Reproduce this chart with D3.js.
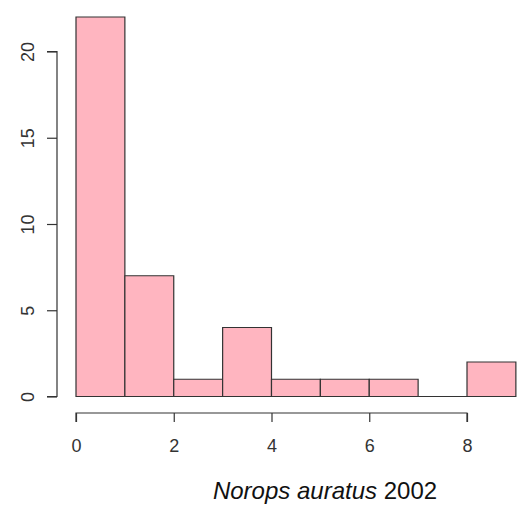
<!DOCTYPE html>
<html>
<head>
<meta charset="utf-8">
<script src="https://cdn.jsdelivr.net/npm/d3@7"></script>
<style>
  body { margin: 0; background: #fff; }
  svg text { font-family: "Liberation Sans", Arial, sans-serif; }
</style>
</head>
<body>
<div id="chart"></div>
<script>
// histogram bins (left edge, right edge) and counts
const binStarts = [0, 1, 2, 3, 4, 5, 6, 7, 8];
const binEnds   = [1, 2, 3, 4, 5, 6, 7, 8, 9];
const counts    = [22, 7, 1, 4, 1, 1, 1, 0, 2];
const xTicks = [0, 2, 4, 6, 8];
const yTicks = [0, 5, 10, 15, 20];

const W = 531, H = 508;

const SVG = d3.select("#chart")
    .append("svg")
        .attr("width", W)
        .attr("height", H);

const x = d3.scaleLinear().domain([0, 8]).range([76, 467]);
const y = d3.scaleLinear().domain([0, 20]).range([396.5, 51.5]);

const bins = binStarts.map((s, i) => ({x0: s, x1: binEnds[i], n: counts[i]}));

// bars as paths so an empty bin still shows its outline on the baseline
SVG.selectAll("path.bar")
    .data(bins)
    .enter()
    .append("path")
        .attr("class", "bar")
        .attr("d", d => `M${x(d.x0)},${y(0)}V${y(d.n)}H${x(d.x1)}V${y(0)}Z`)
        .style("fill", "#ffb5c0")
        .style("stroke", "#333")
        .style("stroke-width", 1.2);

// y axis (R style: rotated labels, detached)
const yAxis = SVG.append("g")
    .attr("transform", "translate(57,0)")
    .call(d3.axisLeft(y).tickValues(yTicks).tickSize(10).tickPadding(6));
yAxis.attr("font-size", 18).attr("font-family", null);
yAxis.select(".domain").attr("stroke", "#333").attr("stroke-width", 1.2).attr("d", `M-10,${y(0)}H0V${y(20)}H-10`);
yAxis.selectAll(".tick line").attr("stroke", "#333").attr("stroke-width", 1.2);
yAxis.selectAll(".tick text")
    .attr("x", null).attr("dy", null)
    .attr("transform", "translate(-29,0) rotate(-90)")
    .attr("text-anchor", "middle")
    .attr("dominant-baseline", "central")
    .attr("fill", "#333");

// x axis
const xAxis = SVG.append("g")
    .attr("transform", "translate(0,413)")
    .call(d3.axisBottom(x).tickValues(xTicks).tickSize(9).tickPadding(17));
xAxis.attr("font-size", 18).attr("font-family", null);
xAxis.select(".domain").attr("stroke", "#333").attr("stroke-width", 1.2).attr("d", `M${x(0)},9V0H${x(8)}V9`);
xAxis.selectAll(".tick line").attr("stroke", "#333").attr("stroke-width", 1.2);
xAxis.selectAll(".tick text").attr("fill", "#333");

// caption
const cap = SVG.append("text")
    .attr("x", 325)
    .attr("y", 499)
    .attr("text-anchor", "middle")
    .attr("font-size", 24)
    .attr("fill", "#111");
cap.append("tspan").style("font-style", "italic").text("Norops auratus");
cap.append("tspan").text(" 2002");
</script>
</body>
</html>
